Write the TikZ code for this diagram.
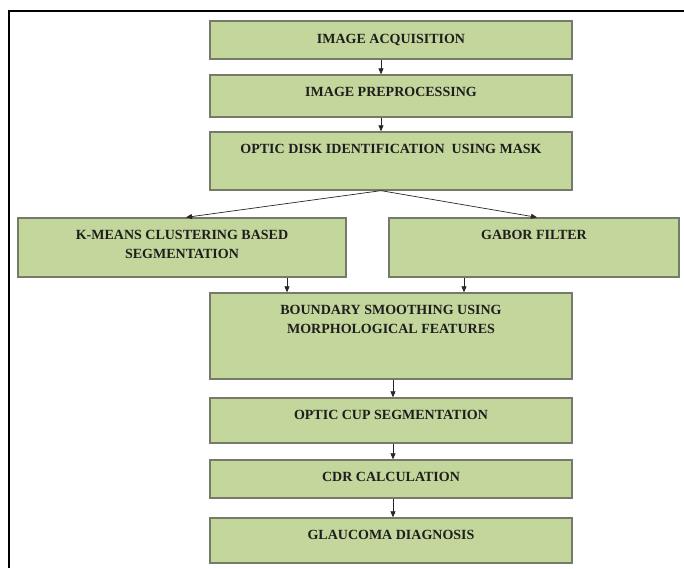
\documentclass[tikz,border=0pt]{standalone}
\usepackage{fontspec}
\setmainfont{Liberation Serif}
\usetikzlibrary{arrows.meta,positioning}
\definecolor{boxgreen}{RGB}{195,214,155}
\definecolor{boxedge}{RGB}{118,122,104}
\definecolor{inkdark}{RGB}{30,30,30}

\begin{document}
\begin{tikzpicture}[x=1pt,y=-1pt,
  stage/.style={draw=boxedge, fill=boxgreen, line width=1.3pt, inner sep=0pt},
  caption/.style={inner sep=0pt, align=center, text=inkdark,
                  font=\fontsize{14}{19}\selectfont\bfseries},
  flow/.style={-{Triangle[length=6pt,width=5pt]}, line width=0.7pt, black!85}]
\useasboundingbox (0,0) rectangle (684,568);
\draw[line width=2.5pt] (684,11) -- (9,11) -- (9,568);
% main column
\node[stage, minimum width=362pt, minimum height=38pt] (acq)    at (391,40)    {};
\node[stage, minimum width=362pt, minimum height=42pt] (pre)    at (391,96)    {};
\node[stage, minimum width=362pt, minimum height=58pt] (disk)   at (391,161)   {};
\node[stage, minimum width=328pt, minimum height=59pt] (kmeans) at (182,247.5) {};
\node[stage, minimum width=290pt, minimum height=59pt] (gabor)  at (534,247.5) {};
\node[stage, minimum width=362pt, minimum height=86pt] (smooth) at (391,336)   {};
\node[stage, minimum width=362pt, minimum height=45pt] (cup)    at (391,420.5) {};
\node[stage, minimum width=362pt, minimum height=38pt] (cdr)    at (391,479)   {};
\node[stage, minimum width=362pt, minimum height=45pt] (diag)   at (391,540.5) {};
% texts
\node[caption, below=14pt of acq.north]    (acq-t)    {IMAGE ACQUISITION};
\node[caption, below=13pt of pre.north]    (pre-t)    {IMAGE PREPROCESSING};
\node[caption, below=13pt of disk.north]   (disk-t)   {OPTIC DISK IDENTIFICATION\ \ USING MASK};
\node[caption, below=13pt of kmeans.north] (kmeans-t) {K-MEANS CLUSTERING BASED\\SEGMENTATION};
\node[caption, below=13pt of gabor.north]  (gabor-t)  {GABOR FILTER};
\node[caption, below=13pt of smooth.north] (smooth-t) {BOUNDARY SMOOTHING USING\\MORPHOLOGICAL FEATURES};
\node[caption, below=13pt of cup.north]    (cup-t)    {OPTIC CUP SEGMENTATION};
\node[caption, below=13pt of cdr.north]    (cdr-t)    {CDR CALCULATION};
\node[caption, below=13pt of diag.north]   (diag-t)   {GLAUCOMA DIAGNOSIS};
% connectors
\coordinate (split) at ([xshift=-10pt]disk.south);
\coordinate (km-out) at ([xshift=105pt]kmeans.south);
\coordinate (gb-out) at ([xshift=-70pt]gabor.south);
\draw[flow] ([xshift=-10pt]acq.south) -- ([xshift=-10pt]pre.north);
\draw[flow] ([xshift=-10pt]pre.south) -- ([xshift=-10pt]disk.north);
\draw[flow] (split) -- ([xshift=4pt]kmeans.north);
\draw[flow] (split) -- ([xshift=3pt]gabor.north);
\draw[flow] (km-out) -- (km-out |- smooth.north);
\draw[flow] (gb-out) -- (gb-out |- smooth.north);
\draw[flow] ([xshift=2pt]smooth.south) -- ([xshift=2pt]cup.north);
\draw[flow] ([xshift=2pt]cup.south) -- ([xshift=2pt]cdr.north);
\draw[flow] ([xshift=2pt]cdr.south) -- ([xshift=2pt]diag.north);
\end{tikzpicture}
\end{document}
